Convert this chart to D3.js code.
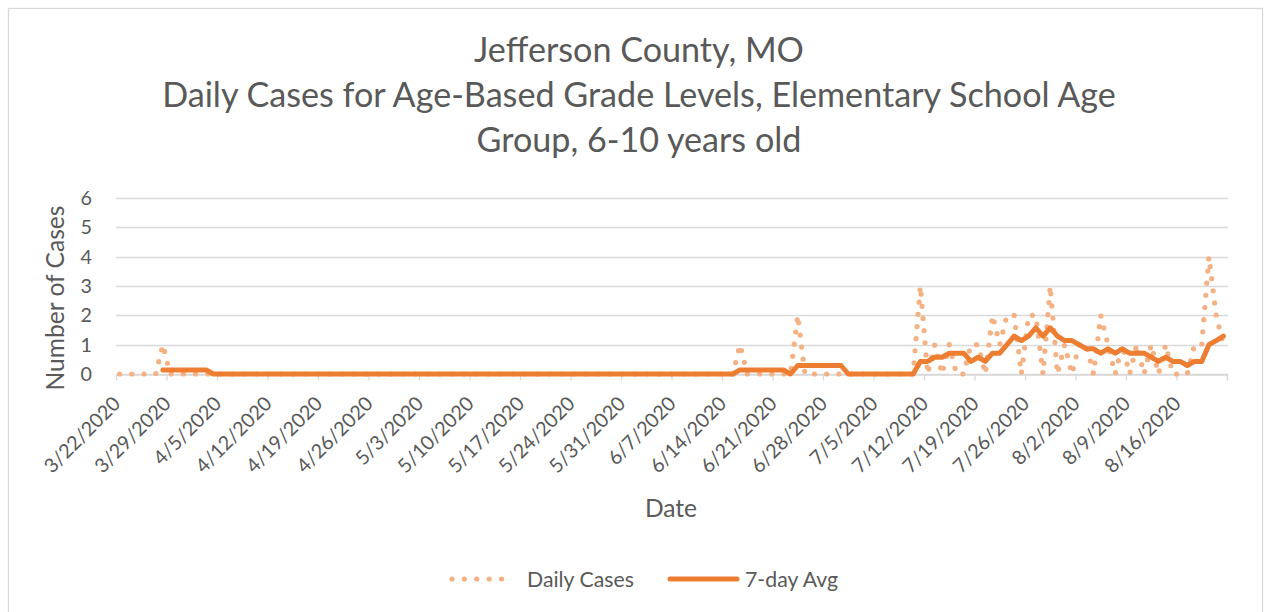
<!DOCTYPE html>
<html><head><meta charset="utf-8">
<script src="https://cdn.jsdelivr.net/npm/d3@7"></script>
<style>
body{margin:0;background:#fff;}
svg{display:block;}
text{font-family:Lato,"Open Sans",sans-serif;fill:#595959;}
</style>
</head><body>
<svg id="chart" width="1273" height="612"></svg>
<script>
// ---------- data ----------
const titleLines = [
  "Jefferson County, MO",
  "Daily Cases for Age-Based Grade Levels, Elementary School Age",
  "Group, 6-10 years old"
];
const xTitle = "Date";
const yTitle = "Number of Cases";
const seriesNames = ["Daily Cases", "7-day Avg"];
const firstDay = "2020-03-22";
const axisEndDay = "2020-08-23";
const tickLabels = ["3/22/2020","3/29/2020","4/5/2020","4/12/2020","4/19/2020","4/26/2020",
  "5/3/2020","5/10/2020","5/17/2020","5/24/2020","5/31/2020","6/7/2020","6/14/2020",
  "6/21/2020","6/28/2020","7/5/2020","7/12/2020","7/19/2020","7/26/2020","8/2/2020",
  "8/9/2020","8/16/2020"];
const yTicks = [0,1,2,3,4,5,6];
// one row per week, starting 3/22/2020
const dailyCases = [
  0,0,0,0,0,0,1,
  0,0,0,0,0,0,0,
  0,0,0,0,0,0,0,
  0,0,0,0,0,0,0,
  0,0,0,0,0,0,0,
  0,0,0,0,0,0,0,
  0,0,0,0,0,0,0,
  0,0,0,0,0,0,0,
  0,0,0,0,0,0,0,
  0,0,0,0,0,0,0,
  0,0,0,0,0,0,0,
  0,0,0,0,0,0,0,
  0,0,1,0,0,0,0,
  0,0,0,2,0,0,0,
  0,0,0,0,0,0,0,
  0,0,0,0,0,0,3,
  0,1,0,1,0,0,1,
  1,0,2,1,2,2,0,
  2,2,0,3,0,1,0,
  1,1,0,2,1,0,1,
  0,1,0,1,0,1,0,
  0,0,1,1,4,2,1
];
const avg7 = [
  null,null,null,null,null,null,0.14,
  0.14,0.14,0.14,0.14,0.14,0.14,0,
  0,0,0,0,0,0,0,
  0,0,0,0,0,0,0,
  0,0,0,0,0,0,0,
  0,0,0,0,0,0,0,
  0,0,0,0,0,0,0,
  0,0,0,0,0,0,0,
  0,0,0,0,0,0,0,
  0,0,0,0,0,0,0,
  0,0,0,0,0,0,0,
  0,0,0,0,0,0,0,
  0,0,0.14,0.14,0.14,0.14,0.14,
  0.14,0.14,0,0.29,0.29,0.29,0.29,
  0.29,0.29,0.29,0,0,0,0,
  0,0,0,0,0,0,0.43,
  0.43,0.57,0.57,0.71,0.71,0.71,0.43,
  0.57,0.43,0.71,0.71,1.00,1.29,1.14,
  1.29,1.57,1.29,1.57,1.29,1.14,1.14,
  1.00,0.86,0.86,0.71,0.86,0.71,0.86,
  0.71,0.71,0.71,0.57,0.43,0.57,0.43,
  0.43,0.29,0.43,0.43,1.00,1.14,1.29
];

// ---------- layout ----------
const svg = d3.select("#chart");
const W = 1273, H = 612;
const plot = {left:116, right:1227, top:198, bottom:374};
const C = {text:"#595959", grid:"#D9D9D9", daily:"#F4B183", avg:"#ED7D31"};

function fitSize(txt, width){
  const t = svg.append("text").style("font-size","100px").text(txt);
  const w = t.node().getComputedTextLength();
  t.remove();
  return 100*width/w;
}

svg.append("rect").attr("x",0).attr("y",0).attr("width",W).attr("height",H).attr("fill","#fff");
svg.append("rect").attr("x",8.5).attr("y",8.5).attr("width",1254).attr("height",640)
  .attr("fill","none").attr("stroke",C.grid).attr("stroke-width",1.3);

const parse = d3.timeParse("%Y-%m-%d");
const parseLbl = d3.timeParse("%m/%d/%Y");
const d0 = parse(firstDay), dEnd = parse(axisEndDay);
const days = dailyCases.map((v,i)=>d3.timeDay.offset(d0,i));

const x = d3.scaleTime().domain([d0,dEnd]).range([plot.left,plot.right]);
const y = d3.scaleLinear().domain([0,6]).range([plot.bottom,plot.top]);
const mid = dt => (x(dt) + x(d3.timeDay.offset(dt,1)))/2;

// title
const titleSize = fitSize(titleLines[1], 954);
const tBase = [62,107,152];
titleLines.forEach((l,i)=>{
  svg.append("text").attr("x",639).attr("y",tBase[i]).attr("text-anchor","middle")
    .style("font-size",titleSize+"px").text(l);
});

// gridlines + y labels
const tickSize = fitSize("3/22/2020", 98);
const gy = svg.append("g");
gy.selectAll("line").data(yTicks).join("line")
  .attr("x1",plot.left).attr("x2",plot.right+1)
  .attr("y1",d=>Math.round(y(d))+0.5).attr("y2",d=>Math.round(y(d))+0.5)
  .attr("stroke",C.grid).attr("stroke-width",1.3);
gy.selectAll("text").data(yTicks).join("text")
  .attr("x",92).attr("y",d=>y(d)).attr("dy","0.36em").attr("text-anchor","end")
  .style("font-size",tickSize+"px").text(d=>d);

// x axis (weekly ticks, Sundays)
const weekTicks = d3.timeWeek.range(d0, d3.timeDay.offset(dEnd,1));
const xAxis = d3.axisBottom(x).tickValues(weekTicks).tickSize(6).tickFormat("");
const gx = svg.append("g").attr("transform",`translate(0,${Math.round(plot.bottom)+0.5})`).call(xAxis);
gx.select(".domain").attr("stroke",C.grid).attr("stroke-width",1.3);
gx.selectAll(".tick line").attr("stroke",C.grid).attr("stroke-width",1.3);

svg.append("g").selectAll("text").data(tickLabels).join("text")
  .attr("text-anchor","end")
  .attr("transform",d=>`translate(${mid(parseLbl(d))+2},405) rotate(-45)`)
  .style("font-size",tickSize+"px").text(d=>d);

// axis titles
const axSize = fitSize(yTitle, 185);
svg.append("text").attr("transform","translate(64,298) rotate(-90)").attr("text-anchor","middle")
  .style("font-size",axSize+"px").text(yTitle);
svg.append("text").attr("x",671).attr("y",517).attr("text-anchor","middle")
  .style("font-size",axSize+"px").text(xTitle);

// series
const lineDaily = d3.line().x((d,i)=>mid(days[i])).y(d=>y(d));
svg.append("path").datum(dailyCases).attr("d",lineDaily)
  .attr("fill","none").attr("stroke",C.daily).attr("stroke-width",5.2)
  .attr("stroke-linecap","round").attr("stroke-dasharray","0 12.2");

const lineAvg = d3.line().defined(d=>d!=null).x((d,i)=>mid(days[i])).y(d=>y(d));
svg.append("path").datum(avg7).attr("d",lineAvg)
  .attr("fill","none").attr("stroke",C.avg).attr("stroke-width",5)
  .attr("stroke-linecap","round").attr("stroke-linejoin","round");

// legend
const legSize = fitSize(seriesNames[0], 107);
const lg = svg.append("g");
lg.append("line").attr("x1",452).attr("x2",514).attr("y1",579).attr("y2",579)
  .attr("stroke",C.daily).attr("stroke-width",5.2).attr("stroke-linecap","round")
  .attr("stroke-dasharray","0 12.4");
lg.append("text").attr("x",527).attr("y",587).style("font-size",legSize+"px").text(seriesNames[0]);
lg.append("line").attr("x1",670).attr("x2",737).attr("y1",579).attr("y2",579)
  .attr("stroke",C.avg).attr("stroke-width",5).attr("stroke-linecap","round");
lg.append("text").attr("x",745).attr("y",587).style("font-size",legSize+"px").text(seriesNames[1]);
</script>
</body></html>
